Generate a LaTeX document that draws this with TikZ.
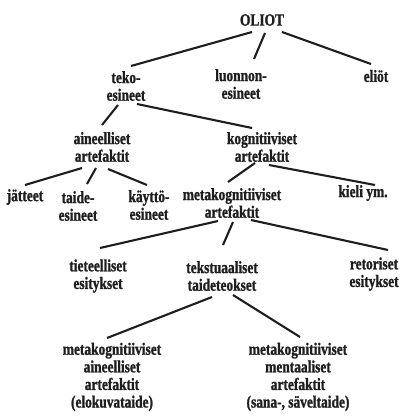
\documentclass[tikz,border=0pt]{standalone}
\usepackage{fontspec}
\newfontfamily\oli{Liberation Serif}[FakeStretch=0.78,BoldFeatures={FakeBold=1.2}]
\usetikzlibrary{calc}
\definecolor{ink}{HTML}{1E1E1E}
\begin{document}
\begin{tikzpicture}[x=1pt,y=-1pt,
  lbl/.style={align=center,inner sep=0pt,text=ink,font=\oli\bfseries\fontsize{17.2}{17.6}\selectfont},
  edge/.style={draw=ink,line width=2.1pt}]
\useasboundingbox[fill=white] (0,0) rectangle (400,420);
\node[lbl] (oliot) at (262,20) {OLIOT};
\node[lbl] (teko) at (126,86) {teko-\\esineet};
\node[lbl] (luonnon) at (241,84) {luonnon-\\esineet};
\node[lbl] (eliot) at (376,76) {eliöt};
\node[lbl] (aine) at (102,147) {aineelliset\\artefaktit};
\node[lbl] (kogn) at (262,147) {kognitiiviset\\artefaktit};
\node[lbl] (jatteet) at (25,197) {jätteet};
\node[lbl] (taide) at (78,206) {taide-\\esineet};
\node[lbl] (kaytto) at (149,205) {käyttö-\\esineet};
\node[lbl] (meta) at (232,203) {metakognitiiviset\\artefaktit};
\node[lbl] (kieli) at (363,193) {kieli ym.};
\node[lbl] (tiet) at (98,276) {tieteelliset\\esitykset};
\node[lbl] (teks) at (222,276) {tekstuaaliset\\taideteokset};
\node[lbl] (retor) at (374,274) {retoriset\\esitykset};
\node[lbl] (mna) at (112,377) {metakognitiiviset\\aineelliset\\artefaktit\\(elokuvataide)};
\node[lbl] (mme) at (298,377) {metakognitiiviset\\mentaaliset\\artefaktit\\(sana-, säveltaide)};
\draw[edge] ($(oliot)+(-10,12)$) -- ($(teko)+(5,-20)$);
\draw[edge] ($(oliot)+(3,13)$) -- ($(luonnon)+(13,-25)$);
\draw[edge] ($(oliot)+(20,12)$) -- ($(eliot)+(-5,-12)$);
\draw[edge] ($(teko)+(-8,19)$) -- ($(aine)+(0,-22)$);
\draw[edge] ($(teko)+(11,18)$) -- ($(kogn)+(-10,-19)$);
\draw[edge] ($(aine)+(-20,21)$) -- ($(jatteet)+(0,-12)$);
\draw[edge] ($(aine)+(-6,21)$) -- ($(taide)+(9,-22)$);
\draw[edge] ($(aine)+(6,22)$) -- ($(kaytto)+(-2,-20)$);
\draw[edge] ($(kogn)+(-7,16)$) -- ($(meta)+(-4,-21)$);
\draw[edge] ($(kogn)+(7,18)$) -- ($(kieli)+(12,-8)$);
\draw[edge] ($(meta)+(-14,18)$) -- ($(tiet)+(2,-28)$);
\draw[edge] ($(meta)+(1,19)$) -- ($(teks)+(1,-31)$);
\draw[edge] ($(meta)+(19,17)$) -- ($(retor)+(14,-24)$);
\draw[edge] ($(teks)+(-10,21)$) -- ($(mna)+(-5,-39)$);
\draw[edge] ($(teks)+(11,19)$) -- ($(mme)+(2,-40)$);
\end{tikzpicture}
\end{document}
